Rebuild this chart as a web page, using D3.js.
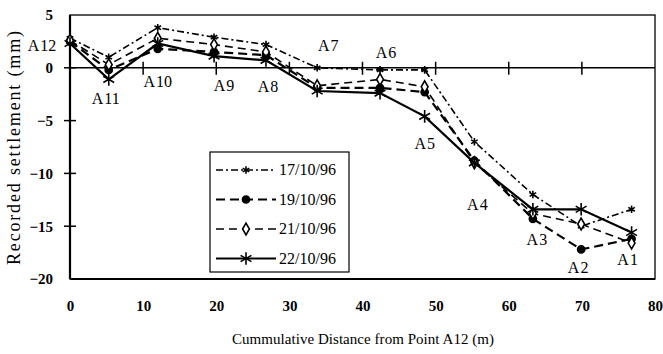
<!DOCTYPE html>
<html>
<head>
<meta charset="utf-8">
<script src="https://cdn.jsdelivr.net/npm/d3@7"></script>
<style>
body { margin: 0; background: white; }
text { font-family: "Liberation Serif", "DejaVu Serif", serif; fill: black; }
</style>
</head>
<body>
<svg id="chart" width="663" height="354"></svg>
<script>
// data
var points = ["A12","A11","A10","A9","A8","A7","A6","A5","A4","A3","A2","A1"];
var distance = [0, 5.3, 12, 19.7, 26.8, 33.8, 42.4, 48.5, 55.3, 63.3, 69.9, 76.8];
var s17 = [2.8, 1.0, 3.8, 2.9, 2.2, 0.0, -0.2, -0.2, -7.0, -12.0, -15.0, -13.4];
var s19 = [2.5, -0.2, 1.8, 1.5, 1.2, -1.9, -1.9, -2.3, -8.8, -14.3, -17.2, -16.2];
var s21 = [2.6, 0.3, 2.8, 2.2, 1.5, -1.7, -1.1, -1.8, -9.0, -13.8, -14.8, -16.6];
var s22 = [2.3, -1.1, 2.3, 1.1, 0.7, -2.2, -2.4, -4.6, -9.0, -13.4, -13.4, -15.6];
var seriesNames = ["17/10/96", "19/10/96", "21/10/96", "22/10/96"];
var xTicks = [0, 10, 20, 30, 40, 50, 60, 70, 80];
var yTicks = [-20, -15, -10, -5, 0, 5];

var svg = d3.select("#chart");
var x = d3.scaleLinear().domain([0, 80]).range([70, 655]);
var y = d3.scaleLinear().domain([-20, 5]).range([279, 15]);

// frame
svg.append("rect").attr("x", 70).attr("y", y(5)).attr("width", 585).attr("height", y(-20) - y(5))
  .attr("fill", "none").attr("stroke", "black").attr("stroke-width", 1.3);
svg.append("line").attr("x1", 70).attr("x2", 70).attr("y1", y(5)).attr("y2", y(-20))
  .attr("stroke", "black").attr("stroke-width", 2.2);
svg.append("line").attr("x1", 70).attr("x2", 655).attr("y1", y(-20)).attr("y2", y(-20))
  .attr("stroke", "black").attr("stroke-width", 1.8);

// y axis
var yAxis = svg.append("g").attr("transform", "translate(70,0)")
  .call(d3.axisLeft(y).tickValues(yTicks).tickSize(0).tickPadding(17));
yAxis.select(".domain").remove();
yAxis.selectAll("text").style("font-size", "15px").style("font-weight", "bold")
  .style("font-family", "Liberation Serif");
svg.append("g").selectAll("line").data(yTicks.filter(function(d){ return d > -20 && d < 5; }))
  .enter().append("line")
  .attr("x1", 64).attr("x2", 76).attr("y1", function(d){ return y(d); }).attr("y2", function(d){ return y(d); })
  .attr("stroke", "black").attr("stroke-width", 1.5);

// zero line with ticks
svg.append("line").attr("x1", 70).attr("x2", 655).attr("y1", y(0)).attr("y2", y(0))
  .attr("stroke", "black").attr("stroke-width", 1.5);
svg.append("g").selectAll("line").data(xTicks.filter(function(d){ return d > 0 && d < 80; }))
  .enter().append("line")
  .attr("x1", function(d){ return x(d); }).attr("x2", function(d){ return x(d); })
  .attr("y1", y(0) - 6).attr("y2", y(0) + 7)
  .attr("stroke", "black").attr("stroke-width", 1.5);

// x tick labels at the bottom
var xAxis = svg.append("g").attr("transform", "translate(0," + y(-20) + ")")
  .call(d3.axisBottom(x).tickValues(xTicks).tickSize(0).tickPadding(21));
xAxis.select(".domain").remove();
xAxis.selectAll("text").style("font-size", "15px").style("font-weight", "bold")
  .style("font-family", "Liberation Serif");

// axis titles
svg.append("text").attr("x", 363).attr("y", 344).attr("text-anchor", "middle")
  .attr("textLength", 262).attr("lengthAdjust", "spacing")
  .style("font-size", "15px").text("Cummulative Distance from Point A12 (m)");
svg.append("text").attr("transform", "translate(20,148) rotate(-90)").attr("text-anchor", "middle")
  .attr("textLength", 234).attr("lengthAdjust", "spacing")
  .style("font-size", "18px").text("Recorded settlement (mm)");

// series
var styles = [
  { vals: s17, dash: "7,3,2,3", width: 1.6, sym: d3.symbolAsterisk, size: 40, fill: "none" },
  { vals: s19, dash: "9,5", width: 2.2, sym: d3.symbolCircle, size: 40, fill: "black" },
  { vals: s21, dash: "8,5", width: 1.6, sym: d3.symbolDiamond, size: 40, fill: "white" },
  { vals: s22, dash: null, width: 2.2, sym: d3.symbolAsterisk, size: 110, fill: "none" }
];
var line = d3.line().x(function(d){ return x(d[0]); }).y(function(d){ return y(d[1]); });

styles.forEach(function(st) {
  var pts = distance.map(function(dx, i){ return [dx, st.vals[i]]; });
  svg.append("path").datum(pts).attr("d", line).attr("fill", "none")
    .attr("stroke", "black").attr("stroke-width", st.width)
    .attr("stroke-dasharray", st.dash);
  svg.append("g").selectAll("path").data(pts).enter().append("path")
    .attr("transform", function(d){ return "translate(" + x(d[0]) + "," + y(d[1]) + ")"; })
    .attr("d", d3.symbol().type(st.sym).size(st.size))
    .attr("fill", st.fill).attr("stroke", "black").attr("stroke-width", 1.6);
});

// point labels, offset in pixels from the 22/10/96 point
var labelOff = [[-28,7],[-3,25],[0,43],[10,35],[2,32],[11,-40],[6,-35],[0,33],[3,47],[4,36],[-3,64],[-4,32]];
var lbl = svg.append("g").selectAll("text").data(points).enter().append("text")
  .attr("x", function(d, i){ return x(distance[i]) + labelOff[i][0]; })
  .attr("y", function(d, i){ return y(s22[i]) + labelOff[i][1]; })
  .attr("text-anchor", "middle")
  .style("font-size", "16px");
lbl.append("tspan").text("A");
lbl.append("tspan").attr("dx", 1).text(function(d){ return d.slice(1); });

// legend
var lg = svg.append("g");
lg.append("rect").attr("x", 210).attr("y", 152).attr("width", 139).attr("height", 120)
  .attr("fill", "white").attr("stroke", "black").attr("stroke-width", 1.2);
styles.forEach(function(st, i) {
  var ly = 170 + i * 29.5;
  lg.append("line").attr("x1", 216).attr("x2", 276).attr("y1", ly).attr("y2", ly)
    .attr("stroke", "black").attr("stroke-width", st.width).attr("stroke-dasharray", st.dash);
  lg.append("path").attr("transform", "translate(246," + ly + ")")
    .attr("d", d3.symbol().type(st.sym).size(st.size))
    .attr("fill", st.fill).attr("stroke", "black").attr("stroke-width", 1.6);
  lg.append("text").attr("x", 279).attr("y", ly + 5).style("font-size", "16px").text(seriesNames[i]);
});
</script>
</body>
</html>
